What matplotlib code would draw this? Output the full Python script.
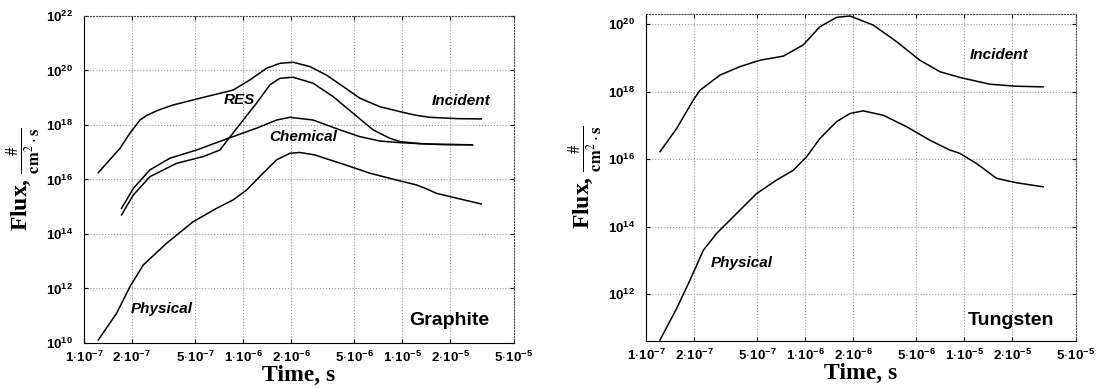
import matplotlib
matplotlib.use("Agg")
import matplotlib.pyplot as plt
from matplotlib.ticker import FixedLocator, NullLocator

plt.rcParams["font.family"] = "Liberation Sans"
plt.rcParams["mathtext.fontset"] = "custom"
plt.rcParams["mathtext.rm"] = "Liberation Sans:bold"
plt.rcParams["mathtext.it"] = "Liberation Sans:bold:italic"
plt.rcParams["mathtext.bf"] = "Liberation Sans:bold"

# values, as log10(time), log10(flux)
g_inc_t = [-6.910, -6.774, -6.711, -6.648, -6.606, -6.530, -6.441, -6.272, -6.063, -5.958,
           -5.853, -5.770, -5.686, -5.581, -5.477, -5.372, -5.267, -5.142, -5.016, -4.920,
           -4.828, -4.650, -4.504]
g_inc_f = [16.25, 17.14, 17.70, 18.18, 18.35, 18.55, 18.73, 18.98, 19.28, 19.65,
           20.08, 20.26, 20.30, 20.14, 19.83, 19.41, 18.98, 18.67, 18.49, 18.36,
           18.28, 18.23, 18.22]

g_res_t = [-6.764, -6.690, -6.586, -6.419, -6.251, -6.146, -6.084, -6.000, -5.916, -5.832,
           -5.770, -5.686, -5.561, -5.435, -5.310, -5.184, -5.079, -5.016, -4.900, -4.760,
           -4.560]
g_res_f = [14.70, 15.43, 16.10, 16.59, 16.84, 17.08, 17.55, 18.18, 18.80, 19.47,
           19.71, 19.75, 19.53, 19.04, 18.43, 17.82, 17.51, 17.39, 17.32, 17.28,
           17.27]

g_chem_t = [-6.764, -6.690, -6.586, -6.460, -6.293, -6.084, -5.916, -5.790, -5.707, -5.561,
            -5.393, -5.267, -5.142, -5.016, -4.850, -4.560]
g_chem_f = [14.94, 15.67, 16.35, 16.78, 17.08, 17.53, 17.88, 18.18, 18.28, 18.18,
            17.82, 17.57, 17.41, 17.35, 17.30, 17.27]

g_phys_t = [-6.910, -6.795, -6.711, -6.628, -6.481, -6.314, -6.167, -6.063, -5.979, -5.875,
            -5.790, -5.707, -5.644, -5.550, -5.456, -5.330, -5.205, -5.038, -4.912, -4.850,
            -4.786, -4.650, -4.504]
g_phys_f = [10.11, 11.09, 12.07, 12.86, 13.66, 14.45, 14.94, 15.25, 15.61, 16.23,
            16.72, 16.96, 16.99, 16.90, 16.72, 16.48, 16.23, 15.98, 15.80, 15.66,
            15.49, 15.30, 15.10]

w_inc_t = [-6.912, -6.807, -6.703, -6.661, -6.535, -6.410, -6.284, -6.138, -6.013, -5.908,
           -5.803, -5.719, -5.573, -5.426, -5.280, -5.154, -5.029, -4.841, -4.680, -4.506]
w_inc_f = [16.22, 16.91, 17.75, 18.04, 18.49, 18.74, 18.93, 19.05, 19.38, 19.92,
           20.20, 20.24, 19.97, 19.48, 18.93, 18.59, 18.42, 18.22, 18.16, 18.14]

w_phys_t = [-6.912, -6.807, -6.724, -6.640, -6.556, -6.431, -6.305, -6.180, -6.075, -5.991,
            -5.908, -5.803, -5.719, -5.636, -5.510, -5.363, -5.217, -5.092, -5.029, -4.924,
            -4.798, -4.673, -4.506]
w_phys_f = [10.64, 11.58, 12.41, 13.30, 13.80, 14.39, 14.98, 15.38, 15.67, 16.07,
            16.61, 17.11, 17.35, 17.43, 17.30, 16.96, 16.56, 16.27, 16.17, 15.87,
            15.43, 15.30, 15.18]

x_ticks = [1e-7, 2e-7, 5e-7, 1e-6, 2e-6, 5e-6, 1e-5, 2e-5, 5e-5]
x_ticklabels = [r"$1\!\cdot\!10^{-7}$", r"$2\!\cdot\!10^{-7}$", r"$5\!\cdot\!10^{-7}$",
                r"$1\!\cdot\!10^{-6}$", r"$2\!\cdot\!10^{-6}$", r"$5\!\cdot\!10^{-6}$",
                r"$1\!\cdot\!10^{-5}$", r"$2\!\cdot\!10^{-5}$", r"$5\!\cdot\!10^{-5}$"]
g_yticks = [10, 12, 14, 16, 18, 20, 22]
w_yticks = [12, 14, 16, 18, 20]


def p10(v):
    return [10.0 ** a for a in v]


fig = plt.figure(figsize=(10.99, 3.88), dpi=100)
ax1 = fig.add_axes([0.0764, 0.116, 0.391, 0.843])
ax2 = fig.add_axes([0.5878, 0.121, 0.391, 0.843])


def style(ax, yticks, ylim):
    ax.set_xscale("log")
    ax.set_yscale("log")
    ax.set_xlim(1e-7, 5e-5)
    ax.set_ylim(*ylim)
    ax.xaxis.set_major_locator(FixedLocator(x_ticks))
    ax.xaxis.set_minor_locator(NullLocator())
    ax.set_xticklabels(x_ticklabels)
    yt = [10.0 ** e for e in yticks]
    ax.yaxis.set_major_locator(FixedLocator(yt))
    ax.yaxis.set_minor_locator(NullLocator())
    ax.set_yticklabels([r"$10^{%d}$" % e for e in yticks])
    ax.tick_params(direction="in", top=True, right=True, length=3, width=0.8,
                   labelsize=9.5)
    ax.tick_params(axis="y", pad=8)
    ax.tick_params(axis="x", pad=5)
    ax.grid(True, linestyle=":", color="0.6", linewidth=0.8)
    ax.spines["top"].set_linestyle(":")
    ax.spines["right"].set_linestyle(":")
    ax.spines["top"].set_color("0.3")
    ax.spines["right"].set_color("0.3")
    ax.set_xlabel("Time, s", family="Liberation Serif", fontweight="bold",
                  fontsize=17, labelpad=0)
    ax.set_ylabel(r"Flux, $\frac{\#}{\mathbf{cm}^{2}\cdot\mathbf{s}}$",
                  family="Liberation Serif", fontweight="bold", fontsize=17,
                  math_fontfamily="stix", labelpad=2)


lw = 1.1
ax1.plot(p10(g_inc_t), p10(g_inc_f), color="black", lw=lw)
ax1.plot(p10(g_res_t), p10(g_res_f), color="black", lw=lw)
ax1.plot(p10(g_chem_t), p10(g_chem_f), color="black", lw=lw)
ax1.plot(p10(g_phys_t), p10(g_phys_f), color="black", lw=lw)
style(ax1, g_yticks, (1e10, 1e22))

lab = dict(fontsize=11, fontweight="bold", style="italic", ha="center", va="center")
ax1.text(10 ** -6.021, 10 ** 18.92, "RES", **lab)
ax1.text(10 ** -4.629, 10 ** 18.89, "Incident", **lab)
ax1.text(10 ** -5.625, 10 ** 17.56, "Chemical", **lab)
ax1.text(10 ** -6.510, 10 ** 11.25, "Physical", **lab)
ax1.text(0.851, 0.070, "Graphite", transform=ax1.transAxes, fontsize=14,
         fontweight="bold", ha="center", va="center")

ax2.plot(p10(w_inc_t), p10(w_inc_f), color="black", lw=lw)
ax2.plot(p10(w_phys_t), p10(w_phys_f), color="black", lw=lw)
style(ax2, w_yticks, (10 ** 10.61, 10 ** 20.30))
ax2.text(10 ** -4.784, 10 ** 19.08, "Incident", **lab)
ax2.text(10 ** -6.399, 10 ** 12.93, "Physical", **lab)
ax2.text(0.850, 0.064, "Tungsten", transform=ax2.transAxes, fontsize=14,
         fontweight="bold", ha="center", va="center")

fig.savefig("out.png", dpi=100)
